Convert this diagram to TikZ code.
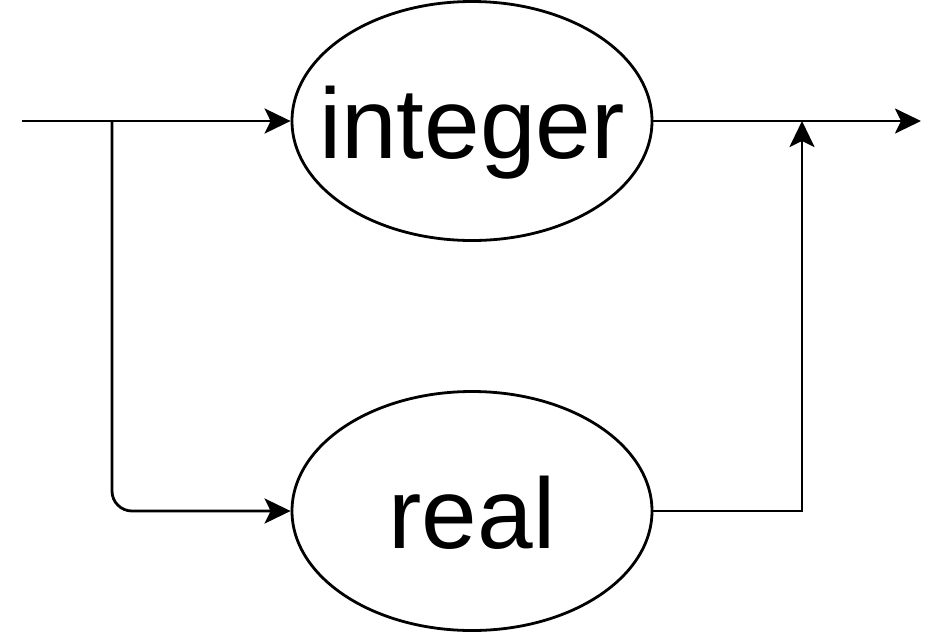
\documentclass[tikz,border=0pt]{standalone}
\usepackage{fontspec}
\setmainfont{Liberation Sans}
\usetikzlibrary{shapes.geometric,arrows.meta}
\begin{document}
\begin{tikzpicture}[x=1pt,y=-1pt, line width=2.8pt,
 term/.style={draw, ellipse, minimum width=360pt, minimum height=239pt, inner sep=0pt},
 lbl/.style={inner sep=0pt, anchor=base, font=\fontsize{100}{100}\selectfont},
 conn/.style={-{Stealth[length=26pt,width=25pt,inset=6pt]}}]
\useasboundingbox (0,0) rectangle (948,633);
\node[term] (int) at (472,121) {};
\node[lbl] (intlbl) at ([yshift=-37pt]int.center) {integer};
\node[term] (real) at (472,511) {};
\node[lbl] (reallbl) at ([yshift=-37pt]real.center) {real};
\coordinate (start) at (22,121);
\coordinate (branch) at (112,121);
\coordinate (end) at (921,121);
\coordinate (merge) at (802,121);
\draw[conn] (start) -- (int.west);
\draw[conn, rounded corners=20pt] (branch) |- (real.west);
\draw[conn] (int.east) -- (end);
\draw[conn] (real.east) -| (merge);
\end{tikzpicture}
\end{document}
